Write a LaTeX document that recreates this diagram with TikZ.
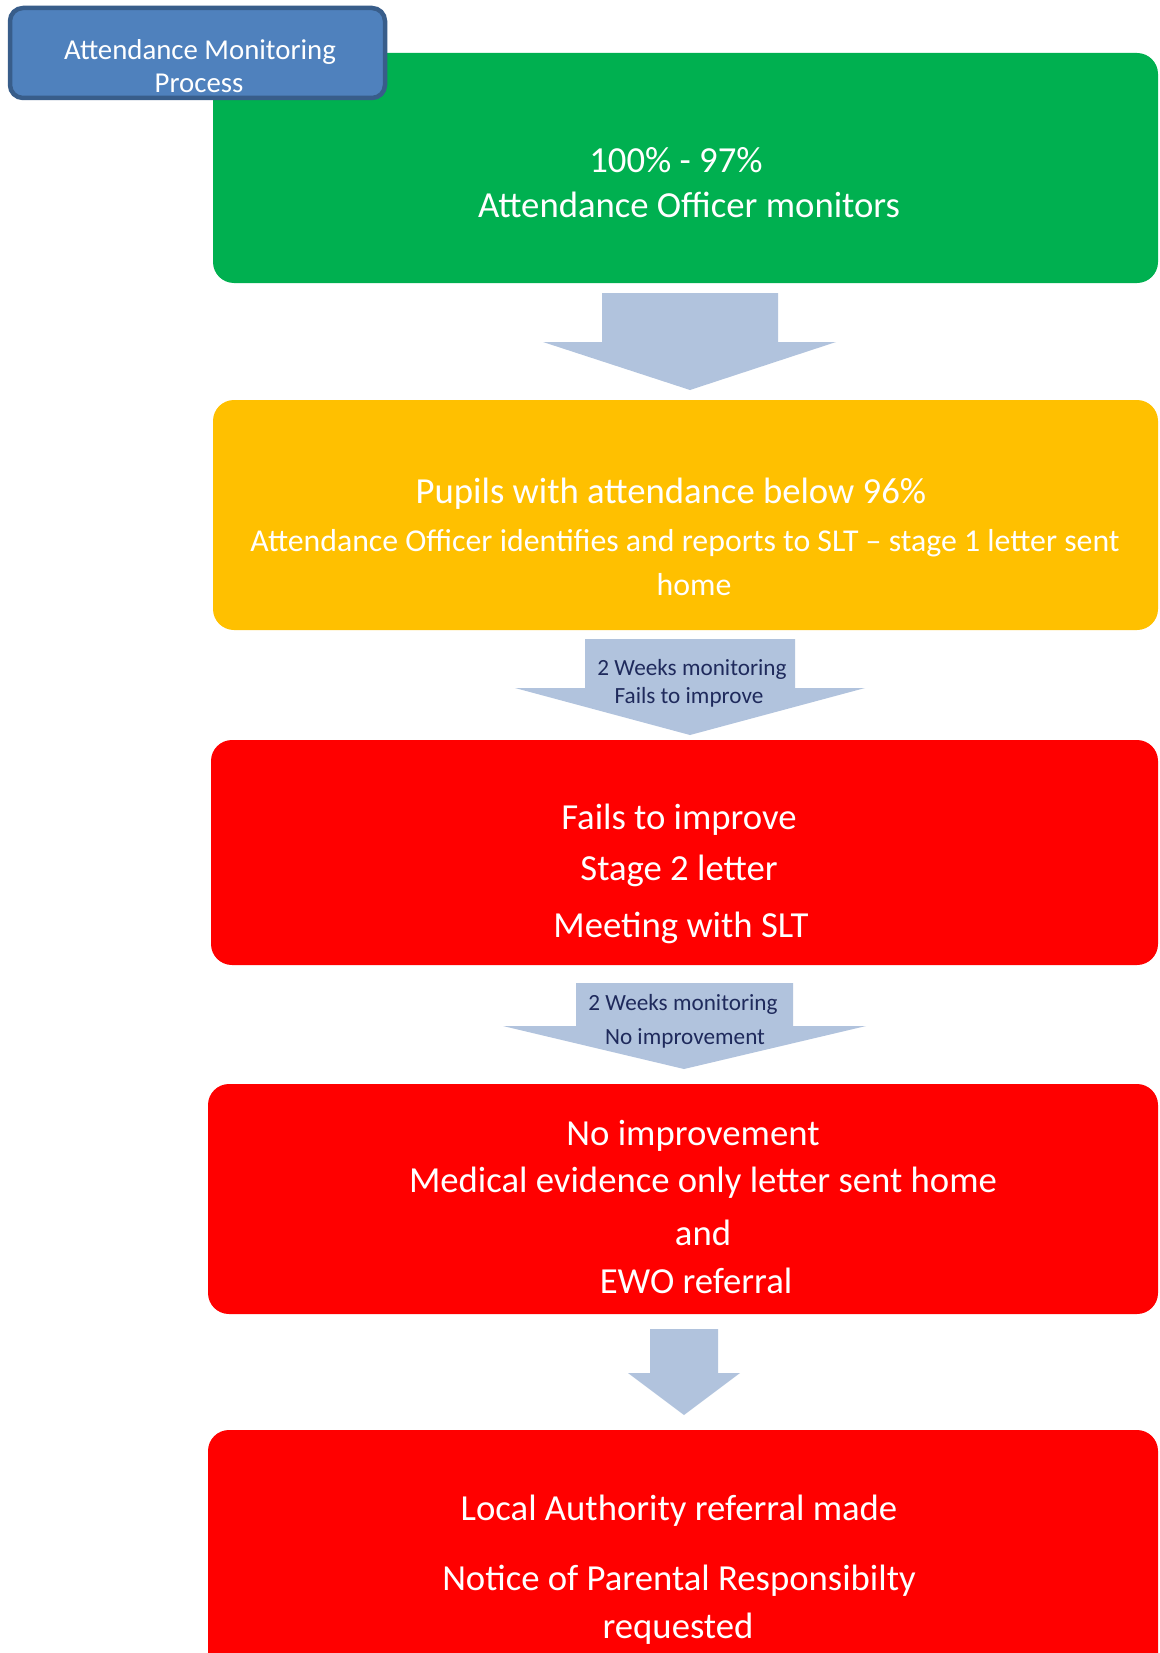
\documentclass[tikz,border=0pt]{standalone}
\usepackage{fontspec}
\setmainfont{Carlito}
\begin{document}
\begin{tikzpicture}[x=1pt,y=-1pt]
\definecolor{cgreen}{HTML}{00B050}
\definecolor{cyellow}{HTML}{FFC000}
\definecolor{cred}{HTML}{FF0000}
\definecolor{carrow}{HTML}{B1C3DD}
\definecolor{ctitle}{HTML}{4F81BD}
\definecolor{ctitleb}{HTML}{385D8A}
\definecolor{cnavy}{HTML}{1F2A5C}
\tikzset{
  stagebox/.style={rounded corners=21pt},
  wtxt/.style={text=white, inner sep=0pt, anchor=center},
  bigtxt/.style={wtxt, font=\fontsize{36.7}{42}\selectfont},
  atxt/.style={text=cnavy, inner sep=0pt, anchor=center, font=\fontsize{23.2}{27}\selectfont},
  blockarrow/.style={fill=carrow, draw=none}
}
\useasboundingbox (0,0) rectangle (1159,1653);
\clip (0,0) rectangle (1159,1653);
\fill[white] (0,0) rectangle (1159,1653);

% stage boxes
\fill[cgreen, stagebox] (213,53) rectangle (1158,283);
\fill[cyellow, stagebox] (213,400) rectangle (1158,630);
\fill[cred, stagebox] (211,740) rectangle (1158,965);
\fill[cred, stagebox] (208,1084) rectangle (1158,1314);
\fill[cred, stagebox] (208,1430) rectangle (1158,1700);

% title box
\filldraw[fill=ctitle, draw=ctitleb, line width=4.5pt, rounded corners=13pt] (10,8) rectangle (385,98);
\node[wtxt, font=\fontsize{28.8}{34}\selectfont] (t1) at (200,52) {Attendance Monitoring};
\node[wtxt, font=\fontsize{28.8}{34}\selectfont] (t2) at (199,83) {Process};

% block arrows
\fill[blockarrow] (602,293) -- (778,293) -- (778,342) -- (836,342) -- (690,390) -- (543,342) -- (602,342) -- cycle;
\fill[blockarrow] (585,639) -- (795,639) -- (795,688) -- (865,688) -- (690,735) -- (515,688) -- (585,688) -- cycle;
\fill[blockarrow] (576,983) -- (793,983) -- (793,1026) -- (866,1026) -- (684,1069) -- (503,1026) -- (576,1026) -- cycle;
\fill[blockarrow] (650,1329) -- (718,1329) -- (718,1373) -- (740,1373) -- (684,1415) -- (628,1373) -- (650,1373) -- cycle;

\node[atxt] (a2a) at (692,669) {2 Weeks monitoring};
\node[atxt] (a2b) at (689,697) {Fails to improve};
\node[atxt] (a3a) at (683,1004) {2 Weeks monitoring};
\node[atxt] (a3b) at (685,1038) {No improvement};

% green text
\node[bigtxt] (g1) at (676,160) {100\% - 97\%};
\node[bigtxt] (g2) at (689,205) {Attendance Officer monitors};

% yellow text
\node[bigtxt] (y1) at (671,494) {Pupils with attendance below 96\%};
\node[wtxt, font=\fontsize{31.8}{37}\selectfont] (y2) at (685,543) {Attendance Officer identifies and reports to SLT -- stage 1 letter sent};
\node[wtxt, font=\fontsize{31.8}{37}\selectfont] (y3) at (694,585) {home};

% red 1
\node[bigtxt] (r1a) at (679,820) {Fails to improve};
\node[bigtxt] (r1b) at (679,871) {Stage 2 letter};
\node[bigtxt] (r1c) at (681,928) {Meeting with SLT};

% red 2
\node[bigtxt] (r2a) at (693,1136) {No improvement};
\node[bigtxt] (r2b) at (703,1183) {Medical evidence only letter sent home};
\node[bigtxt] (r2c) at (703,1233) {and};
\node[bigtxt] (r2d) at (696,1281) {EWO referral};

% red 3
\node[bigtxt] (r3a) at (679,1511) {Local Authority referral made};
\node[bigtxt] (r3b) at (679,1581) {Notice of Parental Responsibilty};
\node[bigtxt] (r3c) at (678,1629) {requested};
\end{tikzpicture}
\end{document}
